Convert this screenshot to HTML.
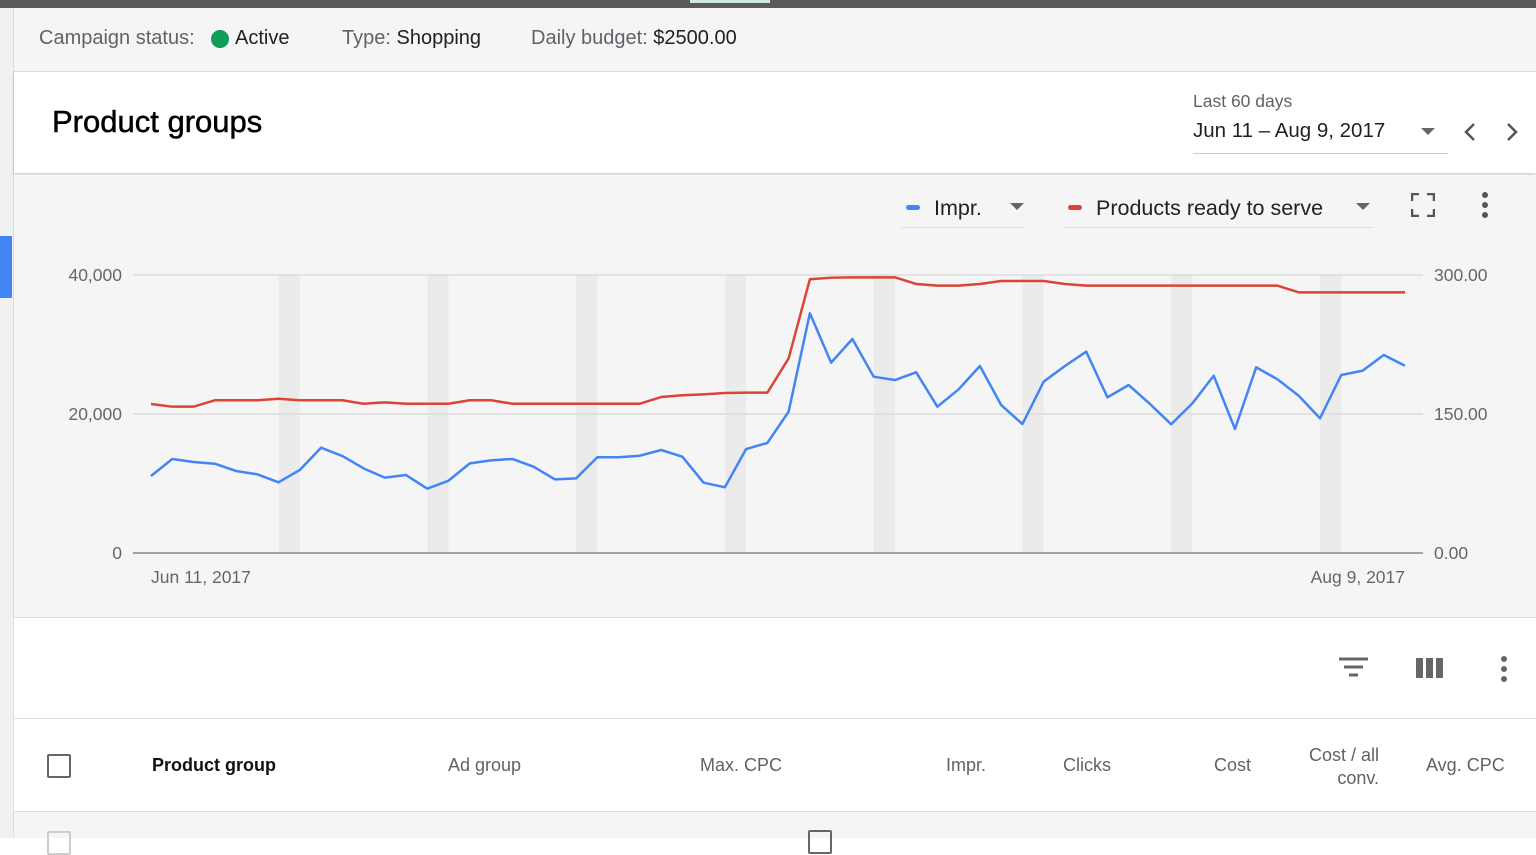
<!DOCTYPE html>
<html><head><meta charset="utf-8"><style>
body{margin:0;width:1536px;height:838px;overflow:hidden;background:#fff;font-family:"Liberation Sans",sans-serif;position:relative}
.a{position:absolute}
.g{color:#5f6368}.d{color:#212121}
</style></head><body>
<div class="a" style="left:0;top:0;width:1536px;height:8px;background:#5a5a5a"></div>
<div class="a" style="left:690px;top:0;width:80px;height:3px;background:#cfe8dc"></div>
<div class="a" style="left:0;top:8px;width:13px;height:830px;background:#f1f1f1;border-right:1px solid #ddd"></div>
<div class="a" style="left:0;top:236px;width:12px;height:62px;background:#4285f4"></div>
<div class="a" style="left:14px;top:8px;width:1522px;height:63px;background:#f5f5f5;border-bottom:1px solid #ddd;font-size:20px">
 <span class="a g" style="left:25px;top:19px">Campaign status:</span>
 <span class="a" style="left:197px;top:22px;width:18px;height:18px;border-radius:50%;background:#0f9d58"></span>
 <span class="a d" style="left:221px;top:19px">Active</span>
 <span class="a g" style="left:328px;top:19px">Type: <span class="d">Shopping</span></span>
 <span class="a g" style="left:517px;top:19px">Daily budget: <span class="d">$2500.00</span></span>
</div>
<div class="a" style="left:14px;top:72px;width:1522px;height:101px;background:#fff;box-shadow:0 2px 3px rgba(0,0,0,.2)">
 <div class="a" style="left:38px;top:32px;font-size:31px;color:#000;-webkit-text-stroke:0.5px #000">Product groups</div>
 <div class="a g" style="left:1179px;top:19px;font-size:17.5px">Last 60 days</div>
 <div class="a d" style="left:1179px;top:47px;width:255px;height:34px;border-bottom:1px solid #ccc;font-size:20.5px">Jun 11 – Aug 9, 2017<span class="a" style="left:228px;top:9px;width:0;height:0;border-left:7px solid transparent;border-right:7px solid transparent;border-top:7px solid #666"></span></div>
 <svg class="a" style="left:1448px;top:50px" width="16" height="20"><path d="M12 2L4 10l8 8" fill="none" stroke="#555" stroke-width="2.5"/></svg>
 <svg class="a" style="left:1490px;top:50px" width="16" height="20"><path d="M4 2l8 8-8 8" fill="none" stroke="#555" stroke-width="2.5"/></svg>
</div>
<div class="a" style="left:14px;top:175px;width:1522px;height:442px;background:#f5f5f5;border-bottom:1px solid #ddd"></div>
<div class="a" style="left:901px;top:193px;width:124px;height:34px;border-bottom:1px solid #ddd;font-size:21.5px;color:#222">
 <span class="a" style="left:5px;top:12px;width:14px;height:5px;border-radius:3px;background:#4285f4"></span><span class="a" style="left:33px;top:3px">Impr.</span>
 <span class="a" style="left:109px;top:10px;border-left:7px solid transparent;border-right:7px solid transparent;border-top:7px solid #666"></span></div>
<div class="a" style="left:1063px;top:193px;width:310px;height:34px;border-bottom:1px solid #ddd;font-size:21.5px;color:#222">
 <span class="a" style="left:5px;top:12px;width:14px;height:5px;border-radius:3px;background:#db4437"></span><span class="a" style="left:33px;top:3px">Products ready to serve</span>
 <span class="a" style="left:293px;top:10px;border-left:7px solid transparent;border-right:7px solid transparent;border-top:7px solid #666"></span></div>
<svg class="a" style="left:1411px;top:193px" width="24" height="24"><path d="M1 8V1h7M16 1h7v7M23 16v7h-7M8 23H1v-7" fill="none" stroke="#555" stroke-width="2.5"/></svg>
<div class="a" style="left:1482px;top:192px;width:6px"><div style="width:6px;height:6px;border-radius:3px;background:#555;margin-bottom:4px"></div><div style="width:6px;height:6px;border-radius:3px;background:#555;margin-bottom:4px"></div><div style="width:6px;height:6px;border-radius:3px;background:#555"></div></div>
<svg id="chart" class="a" style="left:0;top:0" width="1536" height="620"></svg>
<div class="a" style="left:14px;top:618px;width:1522px;height:100px;background:#fff;border-bottom:1px solid #ddd"></div>
<svg class="a" style="left:1339px;top:656px" width="30" height="24"><path d="M0 3h29M5 11h19M10 19h9" stroke="#666" stroke-width="3"/></svg>
<svg class="a" style="left:1416px;top:657px" width="28" height="22"><path d="M0 1h7v20H0zM10 1h7v20h-7zM20 1h7v20h-7z" fill="#666"/></svg>
<div class="a" style="left:1501px;top:656px;width:6px"><div style="width:6px;height:6px;border-radius:3px;background:#666;margin-bottom:4px"></div><div style="width:6px;height:6px;border-radius:3px;background:#666;margin-bottom:4px"></div><div style="width:6px;height:6px;border-radius:3px;background:#666"></div></div>
<div class="a" style="left:14px;top:720px;width:1522px;height:91px;background:#fff;border-bottom:1px solid #ddd;font-size:18px;color:#5f6368">
 <div class="a" style="left:33px;top:34px;width:20px;height:20px;border:2px solid #666;border-radius:2px"></div>
 <span class="a" style="left:138px;top:35px;color:#111;font-weight:bold">Product group</span>
 <span class="a" style="left:434px;top:35px">Ad group</span>
 <span class="a" style="left:686px;top:35px">Max. CPC</span>
 <span class="a" style="left:932px;top:35px">Impr.</span>
 <span class="a" style="left:1049px;top:35px">Clicks</span>
 <span class="a" style="left:1200px;top:35px">Cost</span>
 <span class="a" style="left:1280px;top:24px;text-align:right;width:85px;line-height:23px">Cost / all conv.</span>
 <span class="a" style="left:1412px;top:35px">Avg. CPC</span>
</div>
<div class="a" style="left:14px;top:812px;width:1522px;height:26px;background:#f5f5f5"></div>
<div class="a" style="left:47px;top:831px;width:20px;height:20px;border:2px solid #ccc;border-radius:2px"></div>
<div class="a" style="left:808px;top:830px;width:20px;height:20px;border:2px solid #666;border-radius:2px"></div>
<script>
const categories=[];for(let i=0;i<60;i++)categories.push(i);
const impr=[11080,13530,13090,12850,11800,11320,10170,11940,15150,13960,12180,10840,11220,9260,10410,12900,13330,13530,12420,10600,10740,13770,13770,14000,14820,13860,10120,9450,14960,15830,20340,34490,27390,30790,25370,24890,26000,21050,23550,26910,21290,18560,24650,26910,28970,22400,24170,21440,18520,21540,25510,17840,26720,24990,22630,19380,25610,26230,28490,26950];
const ready=[160.8,157.9,157.9,164.8,164.8,164.8,166.5,164.8,164.8,164.8,161.1,162.6,161.1,161.1,161.1,164.8,164.8,161.1,161.1,161.1,161.1,161.1,161.1,161.1,168.3,170.2,171.2,172.6,173,173,210,295.4,297.1,297.5,297.5,297.5,290.3,288.5,288.5,290.3,293.5,293.5,293.5,290.3,288.5,288.5,288.5,288.5,288.5,288.5,288.5,288.5,288.5,288.5,281.3,281.3,281.3,281.3,281.3,281.3];
const leftTicks=[0,20000,40000];
const leftLabels=["0","20,000","40,000"];
const rightTicks=[0,150,300];
const rightLabels=["0.00","150.00","300.00"];
const xLabels=["Jun 11, 2017","Aug 9, 2017"];
const weekendIdx=[6.5,13.5,20.5,27.5,34.5,41.5,48.5,55.5];
const X0=151,X1=1405,Y0=553,Y1=275;
const x=i=>X0+(X1-X0)*i/(categories.length-1);
const yL=v=>Y0-(Y0-Y1)*v/40000;
const yR=v=>Y0-(Y0-Y1)*v/300;
const svg=document.getElementById('chart');const NS='http://www.w3.org/2000/svg';
function mk(t,a,txt){const e=document.createElementNS(NS,t);for(const k in a)e.setAttribute(k,a[k]);if(txt!==undefined)e.textContent=txt;svg.appendChild(e);return e;}
weekendIdx.forEach(w=>{const e=mk('rect',{x:x(w)-10.5,y:Y1,width:21,height:Y0-Y1,fill:'#ebebeb'});

});
leftTicks.forEach((t,i)=>{if(t>0){const g=mk('line',{x1:133,x2:1423,y1:yL(t),y2:yL(t),stroke:'#dcdcdc','stroke-width':1.5});

}
const l=mk('text',{x:122,y:yL(t)+6,'text-anchor':'end','font-size':17.5,fill:'#666','font-family':'Liberation Sans'},leftLabels[i]);

});
rightTicks.forEach((t,i)=>{const l=mk('text',{x:1434,y:yR(t)+6,'font-size':17.5,fill:'#666','font-family':'Liberation Sans'},rightLabels[i]);

});
const ax=mk('line',{x1:133,x2:1423,y1:Y0,y2:Y0,stroke:'#888','stroke-width':1.5});


[[0,'start'],[categories.length-1,'end']].forEach((p,i)=>{const l=mk('text',{x:x(p[0]),y:583,'text-anchor':p[1],'font-size':17.5,fill:'#666','font-family':'Liberation Sans'},xLabels[i]);

});
const pr=mk('polyline',{points:ready.map((v,i)=>x(i)+','+yR(v)).join(' '),fill:'none',stroke:'#db4437','stroke-width':2.5,'stroke-linejoin':'round'});


const pi=mk('polyline',{points:impr.map((v,i)=>x(i)+','+yL(v)).join(' '),fill:'none',stroke:'#4285f4','stroke-width':2.5,'stroke-linejoin':'round'});


</script>
</body></html>
